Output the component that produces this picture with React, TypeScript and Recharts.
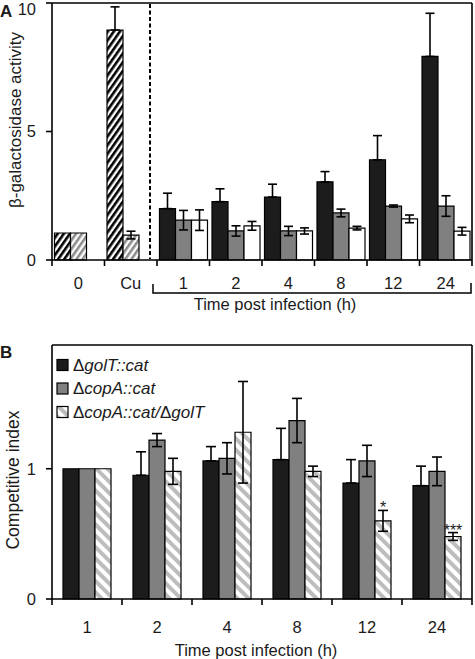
import React from 'react';
import { BarChart, Bar, XAxis, YAxis, ErrorBar, Cell, LabelList, ReferenceLine } from 'recharts';

// panel A - beta-galactosidase activity
const catsA = ['0', 'Cu', '1', '2', '4', '8', '12', '24'];
const blackA = [1.05, 8.95, 2.0, 2.27, 2.45, 3.04, 3.9, 7.92];
const blackErrA = [null, 0.9, 0.6, 0.5, 0.5, 0.4, 0.94, 1.68];
const grayA = [1.05, 0.97, 1.55, 1.13, 1.13, 1.83, 2.1, 2.1];
const grayErrA = [null, 0.15, 0.38, 0.2, 0.18, 0.15, 0.04, 0.4];
const whiteA = [null, null, 1.55, 1.33, 1.13, 1.24, 1.6, 1.12];
const whiteErrA = [null, null, 0.4, 0.17, 0.12, 0.07, 0.15, 0.15];
const ticksA = [0, 5, 10];
const maxA = 10;

// panel B - competitive index
const catsB = ['1', '2', '4', '8', '12', '24'];
const golT = [1, 0.95, 1.06, 1.07, 0.89, 0.87];
const golTErr = [null, 0.18, 0.11, 0.24, 0.18, 0.15];
const copA = [1, 1.22, 1.08, 1.37, 1.06, 0.98];
const copAErr = [null, 0.05, 0.12, 0.17, 0.12, 0.11];
const copAgolT = [1, 0.98, 1.28, 0.98, 0.6, 0.48];
const copAgolTErr = [null, 0.1, 0.39, 0.04, 0.08, 0.03];
const sigB = ['', '', '', '', '*', '***'];
const ticksB = [0, 1];
const maxB = 1.95;

const INK = '#1a1a1a';
const BLACK = '#1c1c1c';
const GRAY = '#808080';
const FONT = '"Liberation Sans", Arial, Helvetica, sans-serif';
const PLOT_W = 420;

const dataA = catsA.map((cat, i) => ({
  cat,
  s1: blackA[i],
  e1: blackErrA[i] == null ? null : [0, blackErrA[i]],
  s2: grayA[i],
  e2: grayErrA[i],
  s3: whiteA[i],
  e3: whiteErrA[i],
}));

const dataB = catsB.map((cat, i) => ({
  cat,
  s1: golT[i],
  e1: golTErr[i] == null ? null : [0, golTErr[i]],
  s2: copA[i],
  e2: copAErr[i],
  s3: copAgolT[i],
  e3: copAgolTErr[i],
  sig: sigB[i],
}));

const YTick = (props: any) => {
  const { x, y, payload } = props;
  return (
    <text x={x} y={Math.max(y, 9)} dy="0.35em" textAnchor="end" fontSize={16.5} fill={INK} fontFamily={FONT}>
      {payload.value}
    </text>
  );
};

// category labels in the middle, tick marks on the category edges
const makeXTick = (count: number, labelGap: number) => (props: any) => {
  const { x, y, payload, index } = props;
  const band = PLOT_W / count;
  return (
    <g>
      <line x1={x - band / 2} x2={x - band / 2} y1={y} y2={y + 6} stroke="#000" strokeWidth={1.6} />
      {index === count - 1 && <line x1={x + band / 2} x2={x + band / 2} y1={y} y2={y + 6} stroke="#000" strokeWidth={1.6} />}
      <text x={x} y={y + labelGap} dy="0.35em" textAnchor="middle" fontSize={16.5} fill={INK} fontFamily={FONT}>
        {payload.value}
      </text>
    </g>
  );
};

const SigLabel = (props: any) => {
  const vb = props.viewBox ?? props;
  const j = sigB.indexOf(props.value);
  if (!props.value || j < 0) return null;
  const pxPer = vb.height / copAgolT[j];
  const yTop = vb.y - (copAgolTErr[j] ?? 0) * pxPer;
  return (
    <text x={vb.x + vb.width / 2} y={yTop + 3} textAnchor="middle" fontSize={16} fill={INK} fontFamily={FONT}>
      {props.value}
    </text>
  );
};

const axisStroke = { stroke: '#000', strokeWidth: 1.6 };

const Patterns = () => (
  <defs>
    <pattern id="hatchBlackA" patternUnits="userSpaceOnUse" width="5" height="5" patternTransform="rotate(35)">
      <rect width="5" height="5" fill="#fff" />
      <rect width="2.6" height="5" fill="#000" />
    </pattern>
    <pattern id="hatchGrayA" patternUnits="userSpaceOnUse" width="5" height="5" patternTransform="rotate(35)">
      <rect width="5" height="5" fill="#fff" />
      <rect width="2.6" height="5" fill="#8c8c8c" />
    </pattern>
    <pattern id="hatchB" patternUnits="userSpaceOnUse" width="8" height="8" patternTransform="rotate(-45)">
      <rect width="8" height="8" fill="#fff" />
      <rect width="4" height="8" fill="#bdbdbd" />
    </pattern>
  </defs>
);

const PanelA = () => (
  <BarChart width={475} height={330} data={dataA} margin={{ top: 3, right: 3, bottom: 40, left: 0 }} barCategoryGap={2.5} barGap={0}>
    <Patterns />
    <XAxis dataKey="cat" interval={0} tickLine={false} tickSize={0} tickMargin={0} height={30} axisLine={axisStroke} tick={makeXTick(catsA.length, 23)} />
    <YAxis domain={[0, maxA]} ticks={ticksA} width={52} tickSize={6} tickMargin={10} axisLine={axisStroke} tickLine={axisStroke} tick={<YTick />} />
    {/* frame: top and right edges */}
    <ReferenceLine y={maxA} stroke="#000" strokeWidth={1.6} />
    <ReferenceLine x={catsA[catsA.length - 1]} position="end" stroke="#000" strokeWidth={1.6} />
    <Bar dataKey="s1" stroke="#000" strokeWidth={1.2} isAnimationActive={false}>
      {catsA.map((c, i) => <Cell key={c} fill={i < 2 ? 'url(#hatchBlackA)' : BLACK} />)}
      <ErrorBar dataKey="e1" width={4.5} stroke="#000" strokeWidth={1.6} isAnimationActive={false} />
    </Bar>
    <Bar dataKey="s2" stroke="#000" strokeWidth={1.2} isAnimationActive={false}>
      {catsA.map((c, i) => <Cell key={c} fill={i < 2 ? 'url(#hatchGrayA)' : GRAY} />)}
      <ErrorBar dataKey="e2" width={4.5} stroke="#000" strokeWidth={1.6} isAnimationActive={false} />
    </Bar>
    <Bar dataKey="s3" fill="#fff" stroke="#000" strokeWidth={1.2} isAnimationActive={false}>
      <ErrorBar dataKey="e3" width={4.5} stroke="#000" strokeWidth={1.6} isAnimationActive={false} />
    </Bar>
  </BarChart>
);

const PanelB = () => (
  <BarChart width={475} height={329} data={dataB} margin={{ top: 15, right: 3, bottom: 30, left: 0 }} barCategoryGap={11} barGap={0}>
    <Patterns />
    <XAxis dataKey="cat" interval={0} tickLine={false} tickSize={0} tickMargin={0} height={30} axisLine={axisStroke} tick={makeXTick(catsB.length, 28)} />
    <YAxis domain={[0, maxB]} ticks={ticksB} width={52} tickSize={6} tickMargin={10} axisLine={axisStroke} tickLine={axisStroke} tick={<YTick />} />
    <ReferenceLine y={maxB} stroke="#000" strokeWidth={1.6} />
    <ReferenceLine x={catsB[catsB.length - 1]} position="end" stroke="#000" strokeWidth={1.6} />
    <Bar dataKey="s1" fill={BLACK} stroke="#000" strokeWidth={1.2} isAnimationActive={false}>
      <ErrorBar dataKey="e1" width={5} stroke="#000" strokeWidth={1.6} isAnimationActive={false} />
    </Bar>
    <Bar dataKey="s2" fill={GRAY} stroke="#000" strokeWidth={1.2} isAnimationActive={false}>
      <ErrorBar dataKey="e2" width={5} stroke="#000" strokeWidth={1.6} isAnimationActive={false} />
    </Bar>
    <Bar dataKey="s3" fill="url(#hatchB)" stroke="#000" strokeWidth={1.2} isAnimationActive={false}>
      <ErrorBar dataKey="e3" width={5} stroke="#000" strokeWidth={1.6} isAnimationActive={false} />
      <LabelList dataKey="sig" content={<SigLabel />} />
    </Bar>
  </BarChart>
);

const legendB = [
  { fill: BLACK, parts: [['Δ', false], ['golT::cat', true]] },
  { fill: GRAY, parts: [['Δ', false], ['copA::cat', true]] },
  { fill: 'url(#hatchLegend)', parts: [['Δ', false], ['copA::cat/', true], ['Δ', false], ['golT', true]] },
];

const Overlay = () => (
  <svg width={475} height={659} style={{ position: 'absolute', left: 0, top: 0, pointerEvents: 'none' }} fontFamily={FONT}>
    <defs>
      <pattern id="hatchLegend" patternUnits="userSpaceOnUse" width="8" height="8" patternTransform="rotate(-45)">
        <rect width="8" height="8" fill="#fff" />
        <rect width="4" height="8" fill="#bdbdbd" />
      </pattern>
    </defs>
    {/* panel letters */}
    <text x={0} y={17} fontSize={17} fontWeight="bold" fill={INK}>A</text>
    <text x={0} y={358} fontSize={17} fontWeight="bold" fill={INK}>B</text>

    {/* panel A extras */}
    <line x1={150} x2={150} y1={4} y2={259} stroke="#000" strokeWidth={2} strokeDasharray="4 2.5" />
    <polyline points="153,284 153,293 471,293 471,283" fill="none" stroke="#000" strokeWidth={1.5} />
    <text x={275} y={304} dy="0.35em" textAnchor="middle" fontSize={16.5} fill={INK}>Time post infection (h)</text>
    <text transform="translate(15,120) rotate(-90)" dy="0.35em" textAnchor="middle" fontSize={17} fill={INK}>β-galactosidase activity</text>

    {/* panel B extras */}
    <text x={256} y={650} dy="0.35em" textAnchor="middle" fontSize={16.5} fill={INK}>Time post infection (h)</text>
    <text transform="translate(13,480) rotate(-90)" dy="0.35em" textAnchor="middle" fontSize={17.5} fill={INK}>Competitive index</text>

    {legendB.map((item, k) => {
      const cy = 365 + k * 23.5;
      return (
        <g key={k}>
          <rect x={57} y={cy - 5.5} width={11} height={11} fill={item.fill} stroke="#000" strokeWidth={1.2} />
          <text x={73} y={cy} dy="0.35em" fontSize={17} fill={INK}>
            {item.parts.map(([t, it], n) => (
              <tspan key={n} fontStyle={it ? 'italic' : 'normal'}>{t as string}</tspan>
            ))}
          </text>
        </g>
      );
    })}
  </svg>
);

export default function App() {
  return (
    <div style={{ position: 'absolute', left: 0, top: 0, width: 475, height: 659, background: '#fff', fontFamily: FONT }}>
      <div style={{ position: 'absolute', left: 0, top: 0 }}>
        <PanelA />
      </div>
      <div style={{ position: 'absolute', left: 0, top: 330 }}>
        <PanelB />
      </div>
      <Overlay />
    </div>
  );
}
